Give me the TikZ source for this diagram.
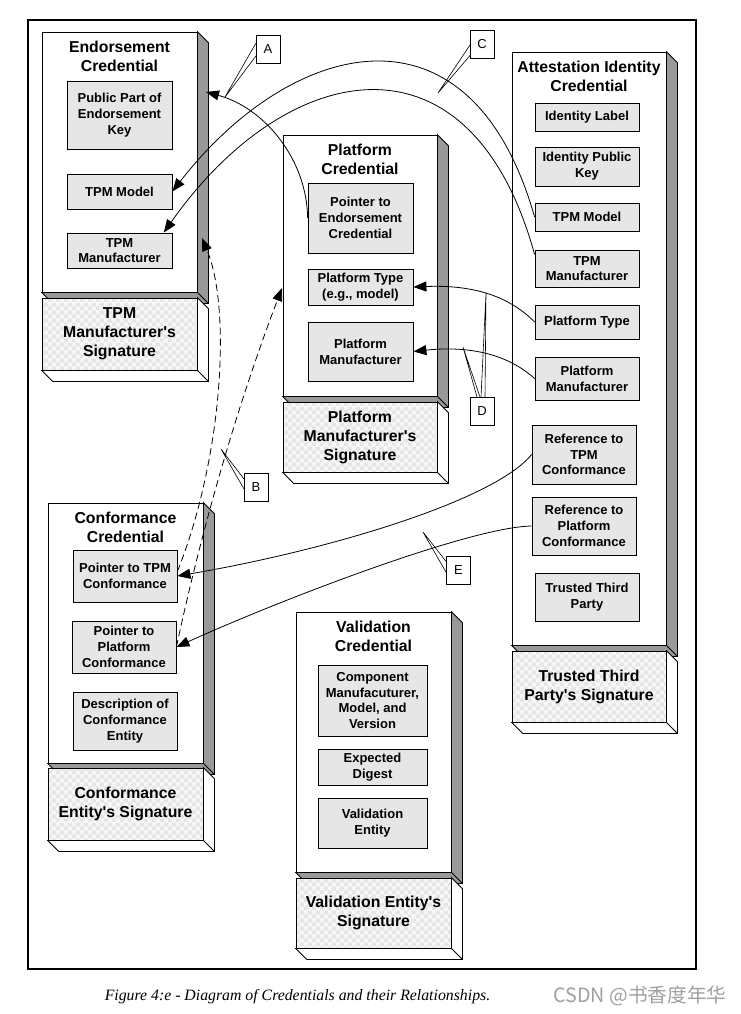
\documentclass[tikz,border=0pt]{standalone}
\usepackage{fontspec}
\setmainfont{Liberation Sans}
\newfontfamily\capfont{Liberation Serif}
\newfontfamily\cjkfont{Noto Sans CJK SC}
\usetikzlibrary{positioning,calc,arrows.meta,patterns.meta}

\definecolor{facegray}{RGB}{153,153,153}
\definecolor{fieldgray}{RGB}{230,230,230}
\definecolor{sigbase}{RGB}{247,247,247}
\definecolor{sigdark}{RGB}{229,229,229}
\definecolor{markgray}{RGB}{160,160,160}

\tikzdeclarepattern{
  name=sigcheck,
  type=colored,
  bottom left={(0pt,0pt)},
  top right={(8pt,8pt)},
  tile size={(8pt,8pt)},
  code={
    \tikzset{x=1pt,y=1pt}
    \fill[sigdark] (0,0) rectangle (4,4);
    \fill[sigdark] (4,4) rectangle (8,8);
  }
}

% depth of the 3d side faces
\newcommand{\extdepth}{11}
\newcommand{\extrude}[2]{%
  \filldraw[fill=#2] (#1.north east) -- ++(\extdepth,\extdepth)
    -- ([shift={(\extdepth,\extdepth)}]#1.south east)
    -- ([shift={(\extdepth,\extdepth)}]#1.south west)
    -- (#1.south west) -- (#1.south east) -- cycle;
  \draw (#1.south east) -- ++(\extdepth,\extdepth);
}
\newcommand{\apo}{\textquotesingle}

\tikzset{
  cred/.style={draw, fill=white},
  credtitle/.style={font=\bfseries\fontsize{15.8}{19}\selectfont, align=center, inner sep=0pt},
  field/.style={draw, fill=fieldgray, font=\bfseries\fontsize{13}{15.8}\selectfont, align=center, inner sep=0pt},
  sig/.style={draw, preaction={fill=sigbase}, pattern=sigcheck, font=\bfseries\fontsize{15.8}{19}\selectfont, align=center, inner sep=0pt},
  tag/.style={draw, fill=white, minimum width=24, minimum height=28, inner sep=0pt, font=\fontsize{13}{15}\selectfont},
  link/.style={-{Triangle[length=13pt,width=10pt]}},
  dlink/.style={link, dash pattern=on 7pt off 4pt},
}

\begin{document}
\begin{tikzpicture}[x=1pt,y=-1pt,line width=0.8pt]
  \fill[white] (0,0) rectangle (740,1014);
  \useasboundingbox (0,0) rectangle (740,1014);
  \draw[line width=2pt] (28,20) rectangle (696,969);

  % credentials
  \node[cred, minimum width=155, minimum height=260] (ec) at (119.5,162) {};
  \node[cred, minimum width=154, minimum height=261] (pc) at (360,265.5) {};
  \node[cred, minimum width=154, minimum height=593] (aic) at (589,348.5) {};
  \node[cred, minimum width=155, minimum height=260] (cc) at (125.5,633) {};
  \node[cred, minimum width=155, minimum height=260] (vc) at (373.5,742) {};
  \foreach \c in {ec,pc,aic,cc,vc} {\extrude{\c}{facegray}}

  % signatures
  \node[sig, minimum width=155, minimum height=72] (ecSig) at (119.5,334) {TPM\\Manufacturer\apo s\\Signature};
  \node[sig, minimum width=154, minimum height=70] (pcSig) at (360,437) {Platform\\Manufacturer\apo s\\Signature};
  \node[sig, minimum width=154, minimum height=71] (aicSig) at (589,686.5) {Trusted Third\\Party\apo s Signature};
  \node[sig, minimum width=155, minimum height=72] (ccSig) at (125.5,804) {Conformance\\Entity\apo s Signature};
  \node[sig, minimum width=155, minimum height=70] (vcSig) at (373.5,913) {Validation Entity\apo s\\Signature};
  \foreach \c in {ecSig,pcSig,aicSig,ccSig,vcSig} {\extrude{\c}{white}}

  \node[credtitle, below=9pt] (ecT) at (ec.north) {Endorsement\\Credential};
  \node[credtitle, below=9pt] (pcT) at (pc.north) {Platform\\Credential};
  \node[credtitle, below=9pt] (aicT) at (aic.north) {Attestation Identity\\Credential};
  \node[credtitle, below=9pt] (ccT) at (cc.north) {Conformance\\Credential};
  \node[credtitle, below=9pt] (vcT) at (vc.north) {Validation\\Credential};

  % fields
  \node[field, minimum width=105, minimum height=68] (pubEK) at (119.5,115) {Public Part of\\Endorsement\\Key};
  \node[field, minimum width=105, minimum height=35] (ecModel) at (119.5,191.5) {TPM Model};
  \node[field, minimum width=105, minimum height=35] (ecMan) at (119.5,250.5) {TPM\\Manufacturer};

  \node[field, minimum width=105, minimum height=70] (ptrEC) at (360.5,218) {Pointer to\\Endorsement\\Credential};
  \node[field, minimum width=105, minimum height=36] (pcType) at (360.5,287) {Platform Type\\(e.g., model)};
  \node[field, minimum width=105, minimum height=59] (pcMan) at (360.5,351.5) {Platform\\Manufacturer};

  \node[field, minimum width=104, minimum height=28] (idLabel) at (587,117) {Identity Label};
  \node[field, minimum width=104, minimum height=39] (idKey) at (587,166.5) {Identity Public\\Key};
  \node[field, minimum width=104, minimum height=28] (aicModel) at (587,217) {TPM Model};
  \node[field, minimum width=104, minimum height=37] (aicMan) at (587,268.5) {TPM\\Manufacturer};
  \node[field, minimum width=104, minimum height=34] (aicType) at (587,322) {Platform Type};
  \node[field, minimum width=104, minimum height=43] (aicPMan) at (587,378.5) {Platform\\Manufacturer};
  \node[field, minimum width=104, minimum height=59] (refTPM) at (584,454.5) {Reference to\\TPM\\Conformance};
  \node[field, minimum width=104, minimum height=58] (refPlat) at (584,526) {Reference to\\Platform\\Conformance};
  \node[field, minimum width=104, minimum height=48] (ttp) at (587,597) {Trusted Third\\Party};

  \node[field, minimum width=104, minimum height=52] (ptrTPM) at (125,576) {Pointer to TPM\\Conformance};
  \node[field, minimum width=104, minimum height=52] (ptrPlat) at (124,647) {Pointer to\\Platform\\Conformance};
  \node[field, minimum width=104, minimum height=58] (descCE) at (125,721) {Description of\\Conformance\\Entity};

  \node[field, minimum width=109, minimum height=71] (comp) at (372.5,700.5) {Component\\Manufacuturer,\\Model, and\\Version};
  \node[field, minimum width=109, minimum height=36] (digest) at (372.5,767) {Expected\\Digest};
  \node[field, minimum width=109, minimum height=50] (valEnt) at (372.5,823) {Validation\\Entity};

  % relationships
  \coordinate (ecA) at (206,92);
  \coordinate (ecB) at (202,238);
  \coordinate (pcB) at (282,288);
  \draw[link] (ptrEC.west) .. controls (307,160) and (265,108) .. (ecA);
  \draw[link] (aicModel.west) .. controls (470,-10) and (290,40) .. (ecModel.east);
  \draw[link] (aicMan.165) .. controls (470,20) and (285,60) .. (ecMan.22);
  \draw[link] (aicType.west) .. controls (505,292) and (465,285) .. (pcType.east);
  \draw[link] (aicPMan.west) .. controls (505,352) and (465,346) .. (pcMan.east);
  \draw[link] (refTPM.west) .. controls (495,500) and (330,550) .. (ptrTPM.east);
  \draw[link] (refPlat.west) .. controls (470,527) and (280,600) .. (ptrPlat.east);
  \draw[dlink] (ptrTPM.5) .. controls (222,460) and (232,310) .. (ecB);
  \draw[dlink] (ptrPlat.east) .. controls (195,560) and (228,430) .. (pcB);

  % callouts
  \coordinate (tagA) at (268,49);
  \coordinate (tagB) at (256,487);
  \coordinate (tagC) at (482,44);
  \coordinate (tagD) at (482,411);
  \coordinate (tagE) at (458.5,570);
  \begin{scope}[line width=0.6pt]
    \draw (225,97) -- ($(tagA)+(-12,-6)$) (225,97) -- ($(tagA)+(-9,3)$);
    \draw (221,449) -- ($(tagB)+(-12,-8)$) (221,449) -- ($(tagB)+(-12,2)$);
    \draw (438,93) -- ($(tagC)+(-12,1)$) (438,93) -- ($(tagC)+(-9,8)$);
    \draw (463,347) -- ($(tagD)+(-5,-14)$) (463,347) -- ($(tagD)+(-2,-14)$);
    \draw (486,293) -- ($(tagD)+(-1,-14)$) (486,293) -- ($(tagD)+(3,-14)$);
    \draw (423,532) -- ($(tagE)+(-12,-8)$) (423,532) -- ($(tagE)+(-12,3)$);
  \end{scope}
  \node[tag] (A) at (tagA) {A};
  \node[tag] (B) at (tagB) {B};
  \node[tag] (C) at (tagC) {C};
  \node[tag] (D) at (tagD) {D};
  \node[tag] (E) at (tagE) {E};

  \node[font=\capfont\itshape\fontsize{15.8}{18}\selectfont] (cap) at (297.5,997) {Figure 4:e - Diagram of Credentials and their Relationships.};
  \node[anchor=west, inner sep=0pt, text=markgray, font=\cjkfont\fontsize{19.7}{22}\selectfont] (mark) at (553,996) {CSDN @书香度年华};
\end{tikzpicture}
\end{document}
